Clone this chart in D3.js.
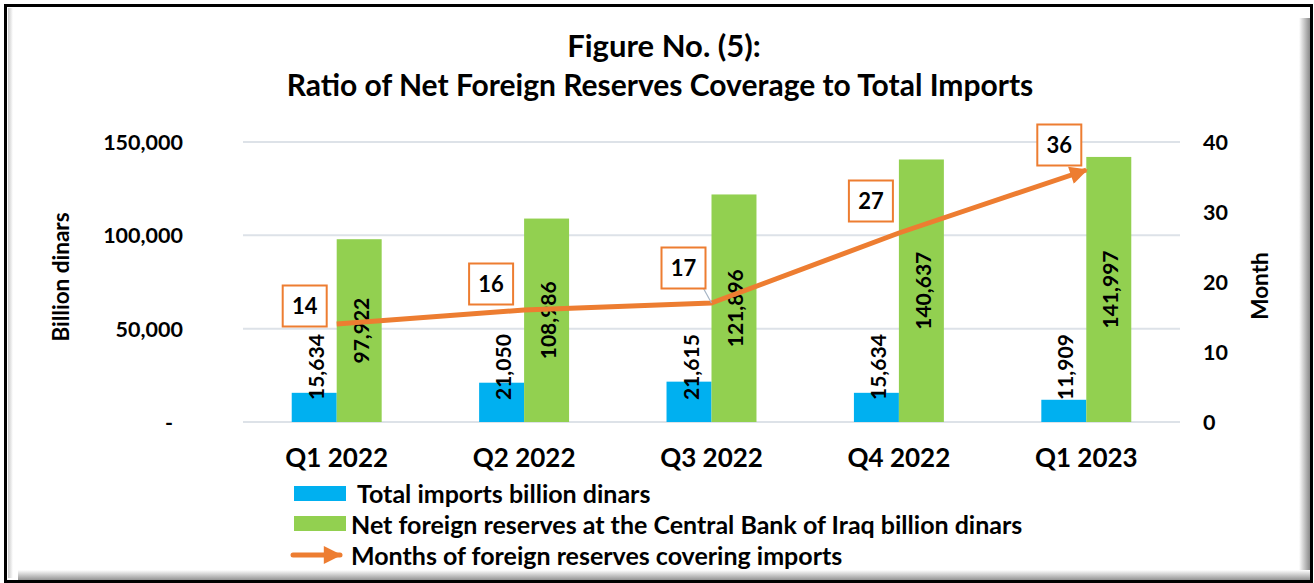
<!DOCTYPE html>
<html>
<head>
<meta charset="utf-8">
<script src="https://cdn.jsdelivr.net/npm/d3@7/dist/d3.min.js"></script>
<style>
  html, body { margin: 0; padding: 0; background: #ffffff; }
  svg { display: block; }
  text { font-family: Lato, "Open Sans", "Noto Sans", sans-serif; font-weight: 700; fill: #000; }
</style>
</head>
<body>
<svg id="chart" width="1314" height="583"></svg>
<script>
// Quarterly data
const categories = ["Q1 2022", "Q2 2022", "Q3 2022", "Q4 2022", "Q1 2023"];
const totalImports = [15634, 21050, 21615, 15634, 11909];      // billion dinars
const netReserves = [97922, 108986, 121896, 140637, 141997];   // billion dinars
const coverageMonths = [14, 16, 17, 27, 36];                   // months
const leftTicks = [0, 50000, 100000, 150000];
const rightTicks = [0, 10, 20, 30, 40];

const seriesNames = [
  "Total imports billion dinars",
  "Net foreign reserves at the Central Bank of Iraq billion dinars",
  "Months of foreign reserves covering imports"
];
const titleLines = ["Figure No. (5):", "Ratio of Net Foreign Reserves Coverage to Total Imports"];

// Placement of the month call-out boxes relative to their points (px)
const calloutOffsets = [[-32, -18], [-33, -26], [-28, -35], [-28, -32], [-27, -25]];

const colors = { imports: "#00B0F0", reserves: "#92D050", months: "#ED7D31", grid: "#DDE2E8" };

const svg = d3.select("#chart");
const W = 1314, H = 583;

// ---- frame with bevel shadow ----
const defs = svg.append("defs");
const gr = defs.append("linearGradient").attr("id", "shadeR").attr("x1", 0).attr("x2", 1).attr("y1", 0).attr("y2", 0);
gr.append("stop").attr("offset", "0%").attr("stop-color", "#ffffff");
gr.append("stop").attr("offset", "100%").attr("stop-color", "#8a8a8a");
const gb = defs.append("linearGradient").attr("id", "shadeB").attr("x1", 0).attr("x2", 0).attr("y1", 0).attr("y2", 1);
gb.append("stop").attr("offset", "0%").attr("stop-color", "#ffffff");
gb.append("stop").attr("offset", "100%").attr("stop-color", "#8a8a8a");
const gl = defs.append("linearGradient").attr("id", "shadeL").attr("x1", 0).attr("x2", 1).attr("y1", 0).attr("y2", 0);
gl.append("stop").attr("offset", "0%").attr("stop-color", "#c8c8c8");
gl.append("stop").attr("offset", "100%").attr("stop-color", "#ffffff");

svg.append("rect").attr("x", 0).attr("y", 0).attr("width", W).attr("height", H).attr("fill", "#fff");
svg.append("rect").attr("x", 1299).attr("y", 18).attr("width", 11).attr("height", 562).attr("fill", "url(#shadeR)");
svg.append("rect").attr("x", 18).attr("y", 570).attr("width", 1292).attr("height", 11).attr("fill", "url(#shadeB)");
svg.append("rect").attr("x", 8).attr("y", 8).attr("width", 5).attr("height", 570).attr("fill", "url(#shadeL)");
svg.append("rect").attr("x", 5.5).attr("y", 5.5).attr("width", 1306).attr("height", 576)
  .attr("fill", "none").attr("stroke", "#000").attr("stroke-width", 3);

// ---- title ----
const title = svg.append("g");
title.append("text").attr("x", 664).attr("y", 57).attr("text-anchor", "middle")
  .style("font-size", "31px").text(titleLines[0]);
title.append("text").attr("x", 660).attr("y", 96).attr("text-anchor", "middle")
  .style("font-size", "30px").text(titleLines[1]);

// ---- scales ----
const plot = { left: 243, right: 1180, top: 142, bottom: 422 };
const x = d3.scaleBand().domain(categories).range([plot.left, plot.right]).paddingInner(0.52).paddingOuter(0.26);
const xSub = d3.scaleBand().domain(["imports", "reserves"]).range([0, x.bandwidth()]);
const yL = d3.scaleLinear().domain([0, 150000]).range([plot.bottom, plot.top]);
const yR = d3.scaleLinear().domain([0, 40]).range([plot.bottom, plot.top]);
const cx = c => x(c) + x.bandwidth() / 2;

// ---- gridlines ----
svg.append("g").selectAll("line").data(leftTicks).join("line")
  .attr("x1", plot.left).attr("x2", plot.right)
  .attr("y1", d => yL(d)).attr("y2", d => yL(d))
  .attr("stroke", colors.grid).attr("stroke-width", 2);

// ---- axes ----
const fmtLeft = d => d === 0 ? "-" : d3.format(",")(d);
const axL = svg.append("g").attr("transform", "translate(183,0)")
  .call(d3.axisLeft(yL).tickValues(leftTicks).tickFormat(fmtLeft).tickSize(0).tickPadding(0));
axL.select(".domain").remove();
axL.selectAll("text").style("font-size", "21.5px").attr("dy", "0.35em");
axL.selectAll(".tick").filter(d => d === 0).select("text").attr("x", -10);

const axR = svg.append("g").attr("transform", "translate(1203,0)")
  .call(d3.axisRight(yR).tickValues(rightTicks).tickSize(0).tickPadding(0));
axR.select(".domain").remove();
axR.selectAll("text").style("font-size", "21.5px").attr("dy", "0.35em");

const axB = svg.append("g").attr("transform", `translate(0,${plot.bottom})`)
  .call(d3.axisBottom(x).tickSize(0).tickPadding(36));
axB.select(".domain").remove();
axB.selectAll("text").style("font-size", "26px").attr("dy", "0.35em");

// axis titles
svg.append("text").attr("transform", "translate(60,277) rotate(-90)")
  .attr("text-anchor", "middle").attr("dominant-baseline", "central")
  .style("font-size", "22.5px").text("Billion dinars");
svg.append("text").attr("transform", "translate(1259,286) rotate(-90)")
  .attr("text-anchor", "middle").attr("dominant-baseline", "central")
  .style("font-size", "22.5px").text("Month");

// ---- bars ----
const barData = categories.map((c, i) => ({ c, imports: totalImports[i], reserves: netReserves[i] }));
const groups = svg.append("g").selectAll("g").data(barData).join("g")
  .attr("transform", d => `translate(${x(d.c)},0)`);

groups.append("rect")
  .attr("x", xSub("imports")).attr("width", xSub.bandwidth())
  .attr("y", d => yL(d.imports)).attr("height", d => yL(0) - yL(d.imports))
  .attr("fill", colors.imports);
groups.append("rect")
  .attr("x", xSub("reserves")).attr("width", xSub.bandwidth())
  .attr("y", d => yL(d.reserves)).attr("height", d => yL(0) - yL(d.reserves))
  .attr("fill", colors.reserves);

// bar value labels (rotated)
groups.append("text")
  .attr("transform", d => `translate(${xSub("imports") + xSub.bandwidth() / 2 + 1},${yL(0) - 22}) rotate(-90)`)
  .attr("text-anchor", "start").attr("dominant-baseline", "central")
  .style("font-size", "21px").text(d => d3.format(",")(d.imports));
groups.append("text")
  .attr("transform", d => `translate(${xSub("reserves") + xSub.bandwidth() / 2 + 1},${(yL(d.reserves) + yL(0)) / 2}) rotate(-90)`)
  .attr("text-anchor", "middle").attr("dominant-baseline", "central")
  .style("font-size", "21px").text(d => d3.format(",")(d.reserves));

// ---- months line with arrow ----
defs.append("marker").attr("id", "arrow").attr("viewBox", "0 0 10 10")
  .attr("refX", 9).attr("refY", 5).attr("markerWidth", 4).attr("markerHeight", 3.6)
  .attr("markerUnits", "strokeWidth").attr("orient", "auto")
  .append("path").attr("d", "M0,0 L10,5 L0,10 Z").attr("fill", colors.months);

const pts = categories.map((c, i) => [cx(c), yR(coverageMonths[i])]);
svg.append("path").datum(pts)
  .attr("d", d3.line())
  .attr("fill", "none").attr("stroke", colors.months).attr("stroke-width", 5)
  .attr("stroke-linejoin", "round").attr("marker-end", "url(#arrow)");

// ---- month call-outs ----
const boxW = 44, boxH = 41;
const callouts = svg.append("g").selectAll("g").data(coverageMonths).join("g")
  .attr("transform", (d, i) => `translate(${pts[i][0] + calloutOffsets[i][0]},${pts[i][1] + calloutOffsets[i][1]})`);
// leader line where the box sits away from its point
callouts.filter((d, i) => i === 2).append("line")
  .attr("x1", boxW / 2 - 2).attr("y1", boxH / 2)
  .attr("x2", -calloutOffsets[2][0]).attr("y2", -calloutOffsets[2][1])
  .attr("stroke", "#A6B4C4").attr("stroke-width", 1.2);
callouts.append("rect")
  .attr("x", -boxW / 2).attr("y", -boxH / 2).attr("width", boxW).attr("height", boxH)
  .attr("fill", "#fff").attr("stroke", colors.months).attr("stroke-width", 2);
callouts.append("text").attr("text-anchor", "middle").attr("dy", "0.36em")
  .style("font-size", "22px").text(d => d);

// ---- legend ----
const legend = svg.append("g");
legend.append("rect").attr("x", 294).attr("y", 486).attr("width", 52).attr("height", 15).attr("fill", colors.imports);
legend.append("text").attr("x", 357).attr("y", 493).attr("dominant-baseline", "central")
  .style("font-size", "25px").text(seriesNames[0]);
legend.append("rect").attr("x", 294).attr("y", 516).attr("width", 52).attr("height", 15).attr("fill", colors.reserves);
legend.append("text").attr("x", 351).attr("y", 524).attr("dominant-baseline", "central")
  .style("font-size", "25px").text(seriesNames[1]);
legend.append("line").attr("x1", 293).attr("x2", 340).attr("y1", 555).attr("y2", 555)
  .attr("stroke", colors.months).attr("stroke-width", 5).attr("stroke-linecap", "round")
  .attr("marker-end", "url(#arrow)");
legend.append("text").attr("x", 351).attr("y", 555).attr("dominant-baseline", "central")
  .style("font-size", "25px").text(seriesNames[2]);
</script>
</body>
</html>
